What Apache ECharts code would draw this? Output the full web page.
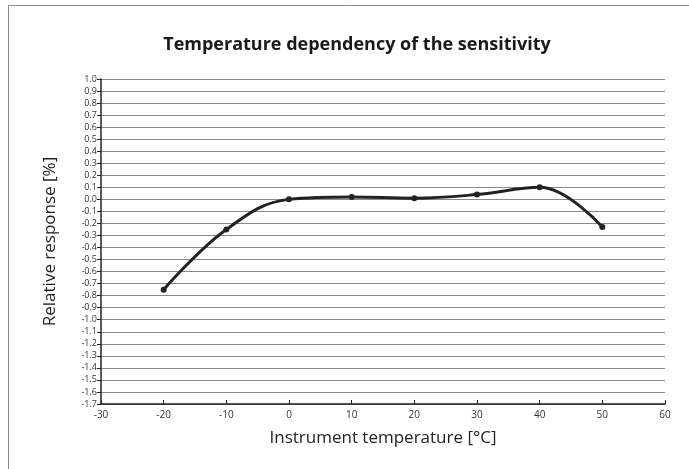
<!DOCTYPE html>
<html>
<head>
<meta charset="utf-8">
<script src="https://cdn.jsdelivr.net/npm/echarts@6/dist/echarts.min.js"></script>
<style>
  html, body { margin: 0; padding: 0; background: #fff; }
  #chart { width: 689px; height: 469px; }
</style>
</head>
<body>
<div id="chart"></div>
<script>
// temperatures (°C) and relative response (%)
var temperatures = [-20, -10, 0, 10, 20, 30, 40, 50]
var responses = [-0.75, -0.25, 0.0, 0.02, 0.01, 0.04, 0.10, -0.23]

var chart = echarts.init(document.getElementById('chart'))

var option = {
  animation: false,
  backgroundColor: '#fff',
  textStyle: { fontFamily: 'Open Sans' },
  title: {
    text: 'Temperature dependency of the sensitivity',
    left: 352, top: 31, textAlign: 'center',
    textStyle: { fontSize: 18, fontWeight: 'bold', color: '#1a1a1a', fontFamily: 'Open Sans' }
  },
  grid: { left: 101, right: 24, top: 79, bottom: 65 },
  xAxis: {
    type: 'value', min: -30, max: 60, interval: 10,
    name: 'Instrument temperature [°C]',
    nameLocation: 'middle', nameGap: 26,
    nameTextStyle: { fontSize: 17, color: '#222' },
    axisLine: { onZero: false, lineStyle: { color: '#222', width: 1.5 } },
    axisTick: { inside: true, length: 4, lineStyle: { color: '#222' } },
    axisLabel: { fontSize: 10, color: '#333', margin: 6 },
    splitLine: { show: false }
  },
  yAxis: {
    type: 'value', min: -1.7, max: 1.0, interval: 0.1,
    name: 'Relative response [%]',
    nameLocation: 'middle', nameGap: 42,
    nameTextStyle: { fontSize: 17, color: '#222' },
    axisLine: { show: true, onZero: false, lineStyle: { color: '#222', width: 1.5 } },
    axisTick: { show: true, length: 4, lineStyle: { color: '#222' } },
    axisLabel: {
      fontSize: 9, color: '#333', margin: 4,
      formatter: function (v) { return (Math.round(v * 10) / 10).toFixed(1) }
    },
    splitLine: { lineStyle: { color: '#8a8a8a', width: 1 } }
  },
  series: [{
    type: 'line',
    data: temperatures.map(function (t, i) { return [t, responses[i]] }),
    smooth: 0.4,
    symbol: 'circle', symbolSize: 6,
    lineStyle: { color: '#222', width: 3 },
    itemStyle: { color: '#222' }
  }],
  graphic: [{
    type: 'rect',
    shape: { x: 8.5, y: 5.5, width: 690, height: 470 },
    style: { fill: 'none', stroke: '#888', lineWidth: 1 }
  }]
}

chart.setOption(option)
</script>
</body>
</html>
